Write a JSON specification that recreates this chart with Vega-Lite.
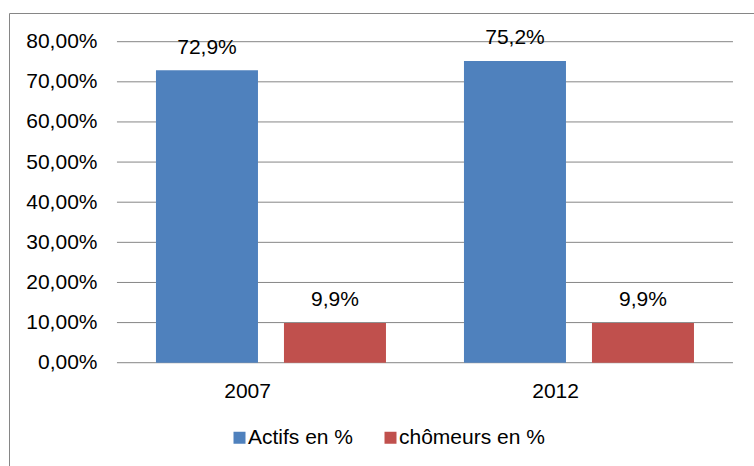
{
  "$schema": "https://vega.github.io/schema/vega-lite/v6.json",
  "width": 745,
  "height": 453,
  "autosize": {"type": "none"},
  "padding": {"left": 9, "top": 13, "right": 0, "bottom": 0},
  "background": "white",
  "config": {
    "locale": {"number": {"decimal": ",", "thousands": " ", "grouping": [3], "currency": ["", " €"]}},
    "view": {"stroke": null},
    "font": "Liberation Sans"
  },
  "datasets": {
    "taux": [
      {"annee": "2007", "serie": "Actifs en %", "valeur": 0.729},
      {"annee": "2007", "serie": "chômeurs en %", "valeur": 0.099},
      {"annee": "2012", "serie": "Actifs en %", "valeur": 0.752},
      {"annee": "2012", "serie": "chômeurs en %", "valeur": 0.099}
    ],
    "grille": [
      {"valeur": 0}, {"valeur": 0.1}, {"valeur": 0.2}, {"valeur": 0.3}, {"valeur": 0.4},
      {"valeur": 0.5}, {"valeur": 0.6}, {"valeur": 0.7}, {"valeur": 0.8}
    ]
  },
  "layer": [
    {
      "data": {"name": "grille"},
      "mark": {"type": "rule", "color": "#868686", "strokeWidth": 1},
      "encoding": {
        "y": {"field": "valeur", "type": "quantitative", "scale": {"domain": [-0.2574, 0.8715], "nice": false, "zero": false}},
        "x": {"datum": "2007", "type": "nominal", "bandPosition": 0, "scale": {"domain": ["2007", "2012"], "paddingInner": 0, "paddingOuter": 0.2094, "align": 0.837}},
        "x2": {"datum": "2012", "bandPosition": 1}
      }
    },
    {
      "data": {"name": "taux"},
      "mark": {"type": "bar"},
      "encoding": {
        "x": {
          "field": "annee", "type": "nominal",
          "scale": {"domain": ["2007", "2012"], "paddingInner": 0, "paddingOuter": 0.2094, "align": 0.837},
          "axis": {"orient": "top", "title": null, "domain": true, "domainColor": "#868686", "ticks": false, "tickSize": 0, "labelPadding": -384, "labelBaseline": "alphabetic", "labelFontSize": 21, "labelColor": "black", "labelAngle": 0, "grid": false}
        },
        "xOffset": {"field": "serie", "type": "nominal", "scale": {"domain": ["Actifs en %", "chômeurs en %"], "paddingInner": 0.2031, "paddingOuter": 0.3047}},
        "y": {
          "field": "valeur", "type": "quantitative",
          "scale": {"domain": [-0.2574, 0.8715], "nice": false, "zero": false},
          "axis": {"title": null, "values": [0, 0.1, 0.2, 0.3, 0.4, 0.5, 0.6, 0.7, 0.8], "format": ".2%", "domain": true, "domainColor": "#868686", "ticks": false, "tickSize": 0, "grid": false, "labelPadding": -88, "labelFontSize": 21, "labelColor": "black"}
        },
        "y2": {"datum": 0},
        "color": {
          "field": "serie", "type": "nominal",
          "scale": {"domain": ["Actifs en %", "chômeurs en %"], "range": ["#4F81BD", "#C0504D"]},
          "legend": {"orient": "none", "legendX": 220, "legendY": 414, "direction": "horizontal", "title": null, "symbolType": "square", "symbolSize": 144, "symbolStrokeWidth": 0, "labelFontSize": 21, "labelOffset": -2, "columnPadding": 26, "padding": 0, "labelColor": "black"}
        }
      }
    },
    {
      "data": {"name": "taux"},
      "mark": {"type": "text", "dy": -16.5, "baseline": "alphabetic", "fontSize": 21, "color": "black"},
      "encoding": {
        "x": {"field": "annee", "type": "nominal"},
        "xOffset": {"field": "serie", "type": "nominal"},
        "y": {"field": "valeur", "type": "quantitative"},
        "text": {"field": "valeur", "type": "quantitative", "format": ".1%"}
      }
    }
  ]
}
